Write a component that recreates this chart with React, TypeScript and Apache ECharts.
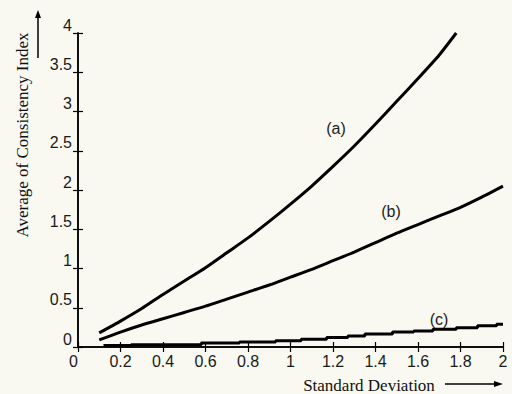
import React, { useEffect, useRef } from "react";
import * as echarts from "echarts";

// Curve (a)
const xA = [0.1, 0.2, 0.3, 0.4, 0.5, 0.6, 0.7, 0.8, 0.9, 1.0, 1.1, 1.2, 1.3, 1.4, 1.5, 1.6, 1.7, 1.78];
const yA = [0.18, 0.33, 0.49, 0.67, 0.84, 1.01, 1.2, 1.39, 1.6, 1.82, 2.05, 2.3, 2.56, 2.84, 3.13, 3.42, 3.72, 4.0];
// Curve (b)
const xB = [0.1, 0.2, 0.3, 0.4, 0.5, 0.6, 0.7, 0.8, 0.9, 1.0, 1.1, 1.2, 1.3, 1.4, 1.5, 1.6, 1.7, 1.8, 1.9, 2.0];
const yB = [0.09, 0.19, 0.28, 0.36, 0.44, 0.52, 0.61, 0.7, 0.79, 0.89, 0.99, 1.1, 1.21, 1.33, 1.45, 1.56, 1.67, 1.78, 1.91, 2.05];
// Curve (c) (step)
const xC = [0.12, 0.25, 0.58, 0.76, 0.93, 1.05, 1.17, 1.27, 1.35, 1.48, 1.58, 1.67, 1.78, 1.88, 1.97, 2.0];
const yC = [0.02, 0.03, 0.05, 0.065, 0.08, 0.1, 0.12, 0.14, 0.165, 0.19, 0.205, 0.225, 0.245, 0.27, 0.29, 0.29];

const curveLabels = ["(a)", "(b)", "(c)"];
const xTitle = "Standard Deviation";
const yTitle = "Average of Consistency Index";

const pairs = (xs: number[], ys: number[]) => xs.map((x, i) => [x, ys[i]]);

export default function App() {
  const ref = useRef<HTMLDivElement>(null);
  useEffect(() => {
    const chart = echarts.init(ref.current!, null, { renderer: "svg" });
    const axisLine = { lineStyle: { color: "#000", width: 1.5 } };
    const tick = { inside: true, length: 5, lineStyle: { color: "#000", width: 1.2 } };
    const lbl = { color: "#1a1a1a", fontFamily: "Liberation Sans", fontSize: 16 };
    const lab = (text: string, x: number, y: number) => ({
      type: "text", x, y,
      style: { text, fill: "#222", font: "16px 'Liberation Sans'", textAlign: "center", textVerticalAlign: "middle" },
    });
    chart.setOption({
      animation: false,
      backgroundColor: "#f9f9f1",
      grid: { left: 78, right: 9, top: 33, bottom: 47 },
      xAxis: [
        {
          type: "value", min: 0, max: 2, interval: 0.2, position: "bottom",
          axisLine, axisTick: tick, splitLine: { show: false },
          axisLabel: { ...lbl, margin: 6, alignMinLabel: "right" },
        },
        {
          type: "value", min: 0, max: 2, interval: 0.2, position: "top",
          axisLine, axisTick: tick, splitLine: { show: false }, axisLabel: { show: false },
        },
      ],
      yAxis: [
        {
          type: "value", min: 0, max: 4, interval: 0.5, position: "left",
          axisLine, axisTick: tick, splitLine: { show: false },
          axisLabel: { ...lbl, margin: 6, verticalAlign: "bottom" },
        },
        {
          type: "value", min: 0, max: 4, interval: 0.5, position: "right",
          axisLine, axisTick: tick, splitLine: { show: false }, axisLabel: { show: false },
        },
      ],
      series: [
        {
          type: "line", data: pairs(xA, yA), smooth: 0.2, showSymbol: false,
          lineStyle: { color: "#000", width: 3 },
        },
        {
          type: "line", data: pairs(xB, yB), smooth: 0.2, showSymbol: false,
          lineStyle: { color: "#000", width: 3 },
        },
        {
          type: "line", data: pairs(xC, yC), step: "end", showSymbol: false,
          lineStyle: { color: "#000", width: 3 },
        },
      ],
      graphic: [
        lab(curveLabels[0], 336, 128),
        lab(curveLabels[1], 391, 211),
        lab(curveLabels[2], 439, 319),
        { type: "text", x: 369, y: 385, style: { text: xTitle, fill: "#111", font: "17px 'Liberation Serif'", textAlign: "center", textVerticalAlign: "middle" } },
        { type: "text", x: 22, y: 135, rotation: Math.PI / 2, style: { text: yTitle, fill: "#111", font: "17px 'Liberation Serif'", textAlign: "center", textVerticalAlign: "middle" } },
        { type: "line", shape: { x1: 38, y1: 58, x2: 38, y2: 15 }, style: { stroke: "#000", lineWidth: 1.5 } },
        { type: "polygon", shape: { points: [[35, 18], [41, 18], [38, 10]] }, style: { fill: "#000" } },
        { type: "line", shape: { x1: 445, y1: 384, x2: 496, y2: 384 }, style: { stroke: "#000", lineWidth: 1.5 } },
        { type: "polygon", shape: { points: [[494, 381], [494, 387], [503, 384]] }, style: { fill: "#000" } },
      ],
    });
    return () => chart.dispose();
  }, []);
  return <div ref={ref} style={{ position: "fixed", left: 0, top: 0, width: 512, height: 394 }} />;
}
